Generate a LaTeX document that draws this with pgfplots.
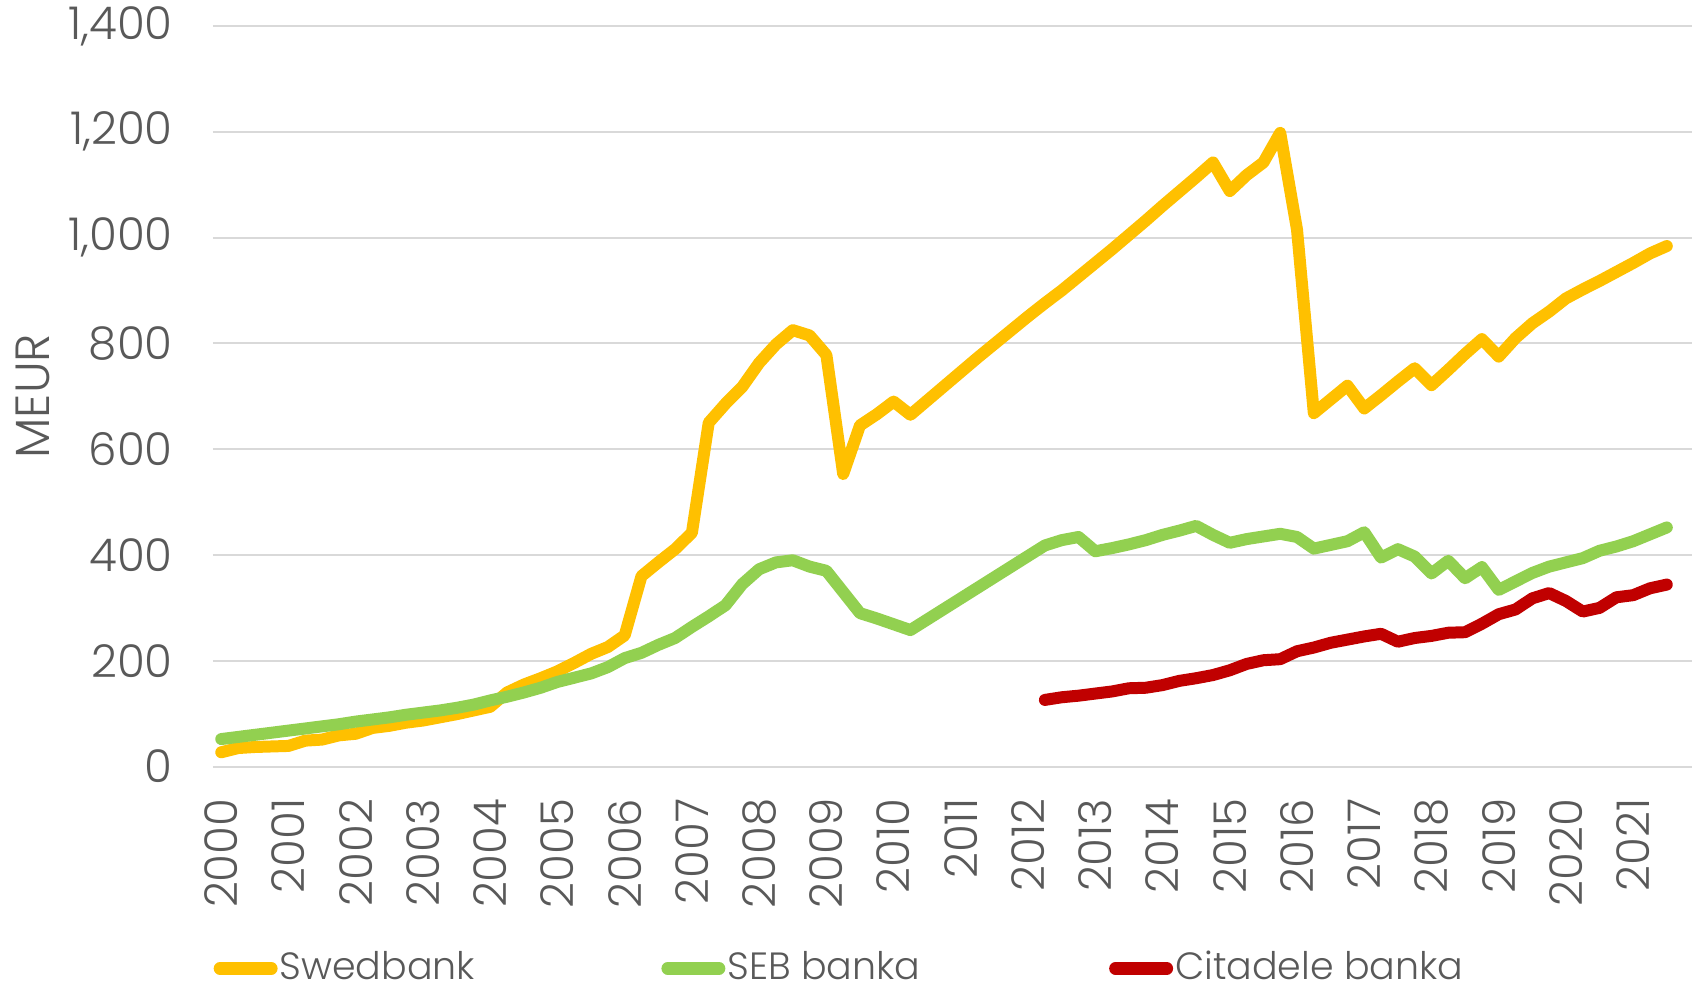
\documentclass[border=0pt]{standalone}
\usepackage{fontspec}
\setmainfont{Poppins}[UprightFont=* Light]
\usepackage{pgfplots}
\usepackage{pgfplotstable}
\pgfplotsset{compat=1.18}

\definecolor{swed}{HTML}{FFC000}
\definecolor{seb}{HTML}{92D050}
\definecolor{cit}{HTML}{C00000}
\definecolor{txt}{HTML}{595959}
\definecolor{gridc}{HTML}{D9D9D9}

% quarterly values, MEUR
\pgfplotstableread{
x       swed  seb
2000.00 27    52
2000.25 35    56
2000.50 37    60
2000.75 38    64
2001.00 39    68
2001.25 49    72
2001.50 51    76
2001.75 59    80
2002.00 62    85
2002.25 73    89
2002.50 77    93
2002.75 83    98
2003.00 87    102
2003.25 93    106
2003.50 99    111
2003.75 106   117
2004.00 113   125
2004.25 140   132
2004.50 155   140
2004.75 167   149
2005.00 180   160
2005.25 196   168
2005.50 213   176
2005.75 226   188
2006.00 248   205
2006.25 360   215
2006.50 386   230
2006.75 411   243
2007.00 442   264
2007.25 650   284
2007.50 686   305
2007.75 718   345
2008.00 763   373
2008.25 798   386
2008.50 825   390
2008.75 815   378
2009.00 778   370
2009.25 553   330
2009.50 645   290
2009.75 666   280
2010.00 690   269
2010.25 665   258
2010.50 692   278
2010.75 719   298
2011.00 746   318
2011.25 773   338
2011.50 799   358
2011.75 825   378
2012.00 851   398
2012.25 876   418
2012.50 900   428
2012.75 926   434
2013.00 952   407
2013.25 978   413
2013.50 1005  420
2013.75 1032  428
2014.00 1060  438
2014.25 1087  446
2014.50 1114  455
2014.75 1142  438
2015.00 1088  423
2015.25 1118  430
2015.50 1142  435
2015.75 1198  440
2016.00 1015  434
2016.25 668   412
2016.50 694   419
2016.75 720   426
2017.00 677   443
2017.25 702   395
2017.50 728   411
2017.75 753   397
2018.00 721   365
2018.25 750   389
2018.50 780   356
2018.75 808   377
2019.00 775   334
2019.25 810   350
2019.50 838   366
2019.75 860   378
2020.00 885   386
2020.25 902   394
2020.50 918   408
2020.75 935   416
2021.00 952   426
2021.25 970   439
2021.50 984   452
}\maindata

\pgfplotstableread{
x       cit
2012.25 126
2012.50 131
2012.75 134
2013.00 138
2013.25 142
2013.50 148
2013.75 149
2014.00 154
2014.25 162
2014.50 167
2014.75 173
2015.00 182
2015.25 194
2015.50 201
2015.75 203
2016.00 218
2016.25 225
2016.50 234
2016.75 240
2017.00 246
2017.25 251
2017.50 236
2017.75 243
2018.00 247
2018.25 253
2018.50 254
2018.75 270
2019.00 288
2019.25 297
2019.50 318
2019.75 328
2020.00 313
2020.25 293
2020.50 300
2020.75 320
2021.00 324
2021.25 337
2021.50 344
}\citdata

\begin{document}
\color{txt}
\begin{tikzpicture}
\begin{axis}[
    scale only axis,
    width=370pt, height=185.25pt,
    xmin=1999.875, xmax=2021.875,
    ymin=0, ymax=1400,
    xtick={2000,...,2021},
    ytick={0,200,...,1400},
    /pgf/number format/assume math mode=true,
    tick label style={font=\fontsize{11.3}{13}\selectfont},
    x tick label style={/pgf/number format/1000 sep={}, rotate=90, anchor=east},
    xticklabel shift=4.5pt,
    yticklabel shift=6.5pt,
    major tick length=0pt,
    axis line style={draw=none},
    ymajorgrids=true,
    grid style={gridc, line width=0.5pt},
    ylabel={MEUR},
    ylabel style={at={(rel axis cs:-0.122,0.5)}, anchor=center, rotate=0,
        font=\fontsize{12}{14}\selectfont},
    every axis plot/.append style={line width=3pt, line join=round, line cap=round},
    legend image code/.code={\draw[#1, line width=3.2pt, line cap=round] (1.6pt,0pt) -- (14.4pt,0pt);},
    legend columns=3,
    legend style={at={(rel axis cs:0,0)}, anchor=west, yshift=-50.5pt,
        draw=none, fill=none, inner sep=0pt,
        font=\fontsize{9.5}{11}\selectfont,
        nodes={inner sep=0.5pt, text=txt},
        /tikz/every even column/.append style={column sep=0pt}},
]
\addplot[swed] table[x=x, y=swed] {\maindata};
\addlegendentry{\makebox[95pt][l]{Swedbank}}
\addplot[seb] table[x=x, y=seb] {\maindata};
\addlegendentry{\makebox[95pt][l]{SEB banka}}
\addplot[cit] table[x=x, y=cit] {\citdata};
\addlegendentry{Citadele banka}
\end{axis}
\pgfresetboundingbox
\path[use as bounding box]
    ([xshift=-53.25pt,yshift=-55pt]current axis.south west)
    rectangle ([xshift=1.5pt,yshift=6.5pt]current axis.north east);
\end{tikzpicture}
\end{document}
